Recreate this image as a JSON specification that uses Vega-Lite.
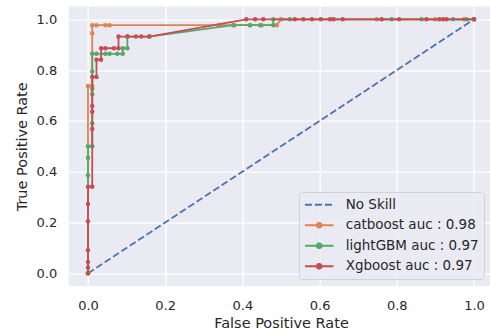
{
  "$schema": "https://vega.github.io/schema/vega-lite/v6.json",
  "width": 424.6,
  "height": 279.4,
  "autosize": {"type": "none"},
  "padding": {"left": 68.7, "top": 6.6, "right": 0, "bottom": 48},
  "background": "white",
  "config": {
    "view": {"fill": "#EAEAF2", "stroke": null},
    "font": "DejaVu Sans",
    "axis": {
      "labelFont": "DejaVu Sans", "titleFont": "DejaVu Sans",
      "labelFontSize": 13, "titleFontSize": 14.5, "titleFontWeight": "normal",
      "labelColor": "#262626", "titleColor": "#262626",
      "grid": true, "gridColor": "white", "gridWidth": 1.3, "gridOpacity": 1,
      "ticks": false, "domain": false, "labelPadding": 12
    }
  },
  "datasets": {
    "roc": [
      {"model": "No Skill", "i": 0, "fpr": 0, "tpr": 0},
      {"model": "No Skill", "i": 1, "fpr": 1, "tpr": 1},
      {"model": "catboost auc : 0.98", "i": 0, "fpr": 0, "tpr": 0},
      {"model": "catboost auc : 0.98", "i": 1, "fpr": 0, "tpr": 0.737},
      {"model": "catboost auc : 0.98", "i": 2, "fpr": 0.011, "tpr": 0.737},
      {"model": "catboost auc : 0.98", "i": 3, "fpr": 0.011, "tpr": 0.945},
      {"model": "catboost auc : 0.98", "i": 4, "fpr": 0.011, "tpr": 0.977},
      {"model": "catboost auc : 0.98", "i": 5, "fpr": 0.022, "tpr": 0.977},
      {"model": "catboost auc : 0.98", "i": 6, "fpr": 0.045, "tpr": 0.977},
      {"model": "catboost auc : 0.98", "i": 7, "fpr": 0.056, "tpr": 0.977},
      {"model": "catboost auc : 0.98", "i": 8, "fpr": 0.338, "tpr": 0.977},
      {"model": "catboost auc : 0.98", "i": 9, "fpr": 0.379, "tpr": 0.977},
      {"model": "catboost auc : 0.98", "i": 10, "fpr": 0.42, "tpr": 0.977},
      {"model": "catboost auc : 0.98", "i": 11, "fpr": 0.45, "tpr": 0.977},
      {"model": "catboost auc : 0.98", "i": 12, "fpr": 0.489, "tpr": 0.977},
      {"model": "catboost auc : 0.98", "i": 13, "fpr": 0.5, "tpr": 1},
      {"model": "catboost auc : 0.98", "i": 14, "fpr": 0.748, "tpr": 1},
      {"model": "catboost auc : 0.98", "i": 15, "fpr": 0.899, "tpr": 1},
      {"model": "catboost auc : 0.98", "i": 16, "fpr": 0.974, "tpr": 1},
      {"model": "catboost auc : 0.98", "i": 17, "fpr": 1, "tpr": 1},
      {"model": "lightGBM auc : 0.97", "i": 0, "fpr": 0, "tpr": 0},
      {"model": "lightGBM auc : 0.97", "i": 1, "fpr": 0, "tpr": 0.386},
      {"model": "lightGBM auc : 0.97", "i": 2, "fpr": 0, "tpr": 0.455},
      {"model": "lightGBM auc : 0.97", "i": 3, "fpr": 0, "tpr": 0.5},
      {"model": "lightGBM auc : 0.97", "i": 4, "fpr": 0.011, "tpr": 0.5},
      {"model": "lightGBM auc : 0.97", "i": 5, "fpr": 0.011, "tpr": 0.591},
      {"model": "lightGBM auc : 0.97", "i": 6, "fpr": 0.011, "tpr": 0.705},
      {"model": "lightGBM auc : 0.97", "i": 7, "fpr": 0.011, "tpr": 0.727},
      {"model": "lightGBM auc : 0.97", "i": 8, "fpr": 0.011, "tpr": 0.795},
      {"model": "lightGBM auc : 0.97", "i": 9, "fpr": 0.011, "tpr": 0.864},
      {"model": "lightGBM auc : 0.97", "i": 10, "fpr": 0.022, "tpr": 0.864},
      {"model": "lightGBM auc : 0.97", "i": 11, "fpr": 0.045, "tpr": 0.864},
      {"model": "lightGBM auc : 0.97", "i": 12, "fpr": 0.056, "tpr": 0.864},
      {"model": "lightGBM auc : 0.97", "i": 13, "fpr": 0.076, "tpr": 0.864},
      {"model": "lightGBM auc : 0.97", "i": 14, "fpr": 0.09, "tpr": 0.864},
      {"model": "lightGBM auc : 0.97", "i": 15, "fpr": 0.09, "tpr": 0.886},
      {"model": "lightGBM auc : 0.97", "i": 16, "fpr": 0.102, "tpr": 0.886},
      {"model": "lightGBM auc : 0.97", "i": 17, "fpr": 0.102, "tpr": 0.932},
      {"model": "lightGBM auc : 0.97", "i": 18, "fpr": 0.159, "tpr": 0.932},
      {"model": "lightGBM auc : 0.97", "i": 19, "fpr": 0.376, "tpr": 0.977},
      {"model": "lightGBM auc : 0.97", "i": 20, "fpr": 0.42, "tpr": 0.977},
      {"model": "lightGBM auc : 0.97", "i": 21, "fpr": 0.446, "tpr": 0.977},
      {"model": "lightGBM auc : 0.97", "i": 22, "fpr": 0.48, "tpr": 0.977},
      {"model": "lightGBM auc : 0.97", "i": 23, "fpr": 0.48, "tpr": 1},
      {"model": "lightGBM auc : 0.97", "i": 24, "fpr": 0.523, "tpr": 1},
      {"model": "lightGBM auc : 0.97", "i": 25, "fpr": 0.787, "tpr": 1},
      {"model": "lightGBM auc : 0.97", "i": 26, "fpr": 0.864, "tpr": 1},
      {"model": "lightGBM auc : 0.97", "i": 27, "fpr": 0.946, "tpr": 1},
      {"model": "lightGBM auc : 0.97", "i": 28, "fpr": 0.981, "tpr": 1},
      {"model": "lightGBM auc : 0.97", "i": 29, "fpr": 1, "tpr": 1},
      {"model": "Xgboost auc : 0.97", "i": 0, "fpr": 0, "tpr": 0},
      {"model": "Xgboost auc : 0.97", "i": 1, "fpr": 0, "tpr": 0.023},
      {"model": "Xgboost auc : 0.97", "i": 2, "fpr": 0, "tpr": 0.045},
      {"model": "Xgboost auc : 0.97", "i": 3, "fpr": 0, "tpr": 0.091},
      {"model": "Xgboost auc : 0.97", "i": 4, "fpr": 0, "tpr": 0.205},
      {"model": "Xgboost auc : 0.97", "i": 5, "fpr": 0, "tpr": 0.273},
      {"model": "Xgboost auc : 0.97", "i": 6, "fpr": 0, "tpr": 0.341},
      {"model": "Xgboost auc : 0.97", "i": 7, "fpr": 0.011, "tpr": 0.341},
      {"model": "Xgboost auc : 0.97", "i": 8, "fpr": 0.011, "tpr": 0.568},
      {"model": "Xgboost auc : 0.97", "i": 9, "fpr": 0.011, "tpr": 0.636},
      {"model": "Xgboost auc : 0.97", "i": 10, "fpr": 0.011, "tpr": 0.659},
      {"model": "Xgboost auc : 0.97", "i": 11, "fpr": 0.011, "tpr": 0.773},
      {"model": "Xgboost auc : 0.97", "i": 12, "fpr": 0.022, "tpr": 0.773},
      {"model": "Xgboost auc : 0.97", "i": 13, "fpr": 0.022, "tpr": 0.841},
      {"model": "Xgboost auc : 0.97", "i": 14, "fpr": 0.034, "tpr": 0.841},
      {"model": "Xgboost auc : 0.97", "i": 15, "fpr": 0.034, "tpr": 0.886},
      {"model": "Xgboost auc : 0.97", "i": 16, "fpr": 0.045, "tpr": 0.886},
      {"model": "Xgboost auc : 0.97", "i": 17, "fpr": 0.067, "tpr": 0.886},
      {"model": "Xgboost auc : 0.97", "i": 18, "fpr": 0.079, "tpr": 0.886},
      {"model": "Xgboost auc : 0.97", "i": 19, "fpr": 0.079, "tpr": 0.932},
      {"model": "Xgboost auc : 0.97", "i": 20, "fpr": 0.102, "tpr": 0.932},
      {"model": "Xgboost auc : 0.97", "i": 21, "fpr": 0.124, "tpr": 0.932},
      {"model": "Xgboost auc : 0.97", "i": 22, "fpr": 0.138, "tpr": 0.932},
      {"model": "Xgboost auc : 0.97", "i": 23, "fpr": 0.159, "tpr": 0.932},
      {"model": "Xgboost auc : 0.97", "i": 24, "fpr": 0.41, "tpr": 1},
      {"model": "Xgboost auc : 0.97", "i": 25, "fpr": 0.433, "tpr": 1},
      {"model": "Xgboost auc : 0.97", "i": 26, "fpr": 0.454, "tpr": 1},
      {"model": "Xgboost auc : 0.97", "i": 27, "fpr": 0.536, "tpr": 1},
      {"model": "Xgboost auc : 0.97", "i": 28, "fpr": 0.558, "tpr": 1},
      {"model": "Xgboost auc : 0.97", "i": 29, "fpr": 0.58, "tpr": 1},
      {"model": "Xgboost auc : 0.97", "i": 30, "fpr": 0.603, "tpr": 1},
      {"model": "Xgboost auc : 0.97", "i": 31, "fpr": 0.627, "tpr": 1},
      {"model": "Xgboost auc : 0.97", "i": 32, "fpr": 0.636, "tpr": 1},
      {"model": "Xgboost auc : 0.97", "i": 33, "fpr": 0.66, "tpr": 1},
      {"model": "Xgboost auc : 0.97", "i": 34, "fpr": 0.761, "tpr": 1},
      {"model": "Xgboost auc : 0.97", "i": 35, "fpr": 0.806, "tpr": 1},
      {"model": "Xgboost auc : 0.97", "i": 36, "fpr": 0.877, "tpr": 1},
      {"model": "Xgboost auc : 0.97", "i": 37, "fpr": 0.91, "tpr": 1},
      {"model": "Xgboost auc : 0.97", "i": 38, "fpr": 0.92, "tpr": 1},
      {"model": "Xgboost auc : 0.97", "i": 39, "fpr": 0.929, "tpr": 1},
      {"model": "Xgboost auc : 0.97", "i": 40, "fpr": 1, "tpr": 1}
    ]
  },
  "data": {"name": "roc"},
  "encoding": {
    "x": {"field": "fpr", "type": "quantitative", "title": "False Positive Rate",
      "scale": {"domain": [-0.05, 1.05], "nice": false, "zero": false},
      "axis": {"values": [0, 0.2, 0.4, 0.6, 0.8, 1.0], "format": ".1f", "labelPadding": 14, "titlePadding": 4}},
    "y": {"field": "tpr", "type": "quantitative", "title": "True Positive Rate",
      "scale": {"domain": [-0.05, 1.05], "nice": false, "zero": false},
      "axis": {"values": [0, 0.2, 0.4, 0.6, 0.8, 1.0], "format": ".1f", "titlePadding": 7}},
    "order": {"field": "i", "type": "quantitative"},
    "color": {"field": "model", "type": "nominal",
      "scale": {"domain": ["No Skill", "catboost auc : 0.98", "lightGBM auc : 0.97", "Xgboost auc : 0.97"],
        "range": ["#4C72B0", "#DD8452", "#55A868", "#C44E52"]},
      "legend": {
        "title": null, "orient": "none", "legendX": 230.3, "legendY": 185.4,
        "labelFont": "DejaVu Sans", "labelFontSize": 13.5, "labelColor": "#262626",
        "symbolSize": 820, "clipHeight": 16, "rowPadding": 4.5, "labelOffset": 11,
        "padding": 4.75, "fillColor": "rgba(234,234,242,0.8)", "strokeColor": "rgba(204,204,204,0.8)",
        "cornerRadius": 3,
        "encode": {"symbols": {"update": {
          "shape": {"signal": "datum.value === 'No Skill' ? 'M-1,0H1' : 'M-1,0H1M-0.17,0A0.17,0.17 0 1,0 0.17,0A0.17,0.17 0 1,0 -0.17,0Z'"},
          "strokeDash": {"signal": "datum.value === 'No Skill' ? [7,3] : [1,0]"},
          "fill": {"signal": "scale('color', datum.value)"},
          "stroke": {"signal": "scale('color', datum.value)"},
          "strokeWidth": {"value": 1.8},
          "opacity": {"value": 1}, "fillOpacity": {"value": 1}, "strokeOpacity": {"value": 1}
        }}}
      }}
  },
  "layer": [
    {"transform": [{"filter": "datum.model === 'No Skill'"}],
     "mark": {"type": "line", "strokeWidth": 1.8, "strokeDash": [7, 3]}},
    {"transform": [{"filter": "datum.model === 'catboost auc : 0.98'"}],
     "mark": {"type": "line", "strokeWidth": 1.8}},
    {"transform": [{"filter": "datum.model === 'catboost auc : 0.98'"}],
     "mark": {"type": "point", "filled": true, "size": 20, "opacity": 1}},
    {"transform": [{"filter": "datum.model === 'lightGBM auc : 0.97'"}],
     "mark": {"type": "line", "strokeWidth": 1.8}},
    {"transform": [{"filter": "datum.model === 'lightGBM auc : 0.97'"}],
     "mark": {"type": "point", "filled": true, "size": 20, "opacity": 1}},
    {"transform": [{"filter": "datum.model === 'Xgboost auc : 0.97'"}],
     "mark": {"type": "line", "strokeWidth": 1.8}},
    {"transform": [{"filter": "datum.model === 'Xgboost auc : 0.97'"}],
     "mark": {"type": "point", "filled": true, "size": 20, "opacity": 1}}
  ]
}
